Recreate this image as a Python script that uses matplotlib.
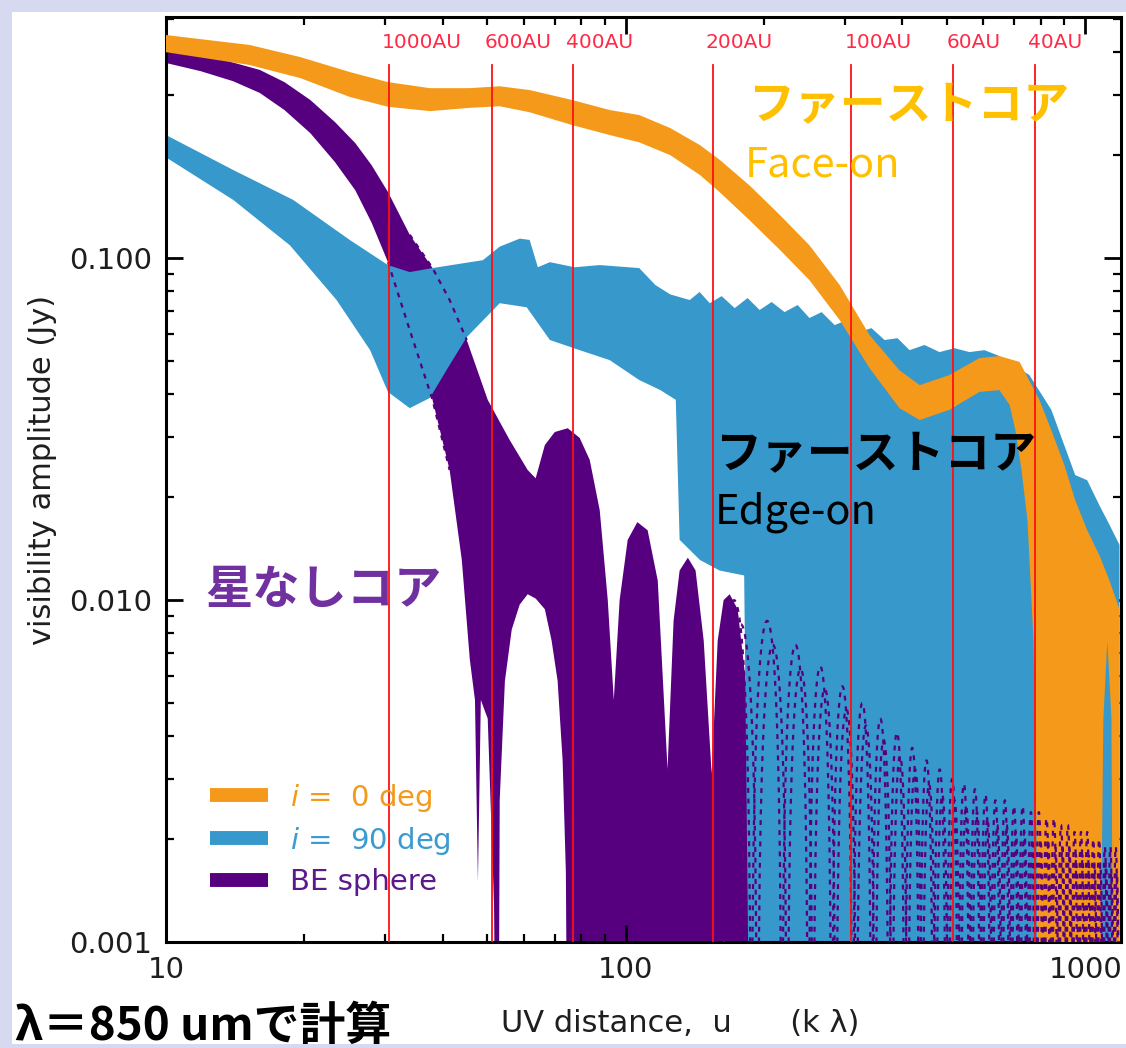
import numpy as np
import matplotlib.pyplot as plt
from matplotlib.lines import Line2D
from matplotlib.patches import Rectangle
from matplotlib.ticker import LogLocator, NullFormatter

JP = ['Noto Sans CJK JP', 'DejaVu Sans']

# first core, face-on (i = 0 deg): upper and lower edge of the band
face_hi_u = [10, 15.2, 19.6, 25.1, 30.4, 37.5, 45.8, 53.2, 61.8, 76.4, 92.3, 107, 125, 145, 160, 186, 216, 251,
             292, 339, 394, 436, 506, 588, 650, 719, 794, 843, 900, 950, 1009, 1073, 1128, 1186]
face_hi_v = [0.449, 0.420, 0.387, 0.350, 0.327, 0.314, 0.314, 0.318, 0.310, 0.290, 0.271, 0.262, 0.240, 0.214,
             0.194, 0.163, 0.134, 0.109, 0.0834, 0.0596, 0.0470, 0.0425, 0.0455, 0.0510, 0.0517, 0.0497, 0.0385,
             0.0314, 0.0248, 0.0196, 0.0160, 0.0135, 0.0114, 0.0094]
face_lo_u = [10, 15.2, 19.6, 25.1, 30.4, 37.5, 45.8, 53.2, 61.8, 76.4, 92.3, 107, 125, 145, 160, 186, 216, 251,
             292, 339, 394, 436, 506, 588, 650, 684, 704, 726, 748, 771, 783, 790, 1062, 1094, 1116, 1139, 1156,
             1186]
face_lo_v = [0.400, 0.367, 0.336, 0.296, 0.277, 0.269, 0.275, 0.278, 0.267, 0.245, 0.229, 0.218, 0.200, 0.175,
             0.156, 0.129, 0.106, 0.0862, 0.0659, 0.0477, 0.0364, 0.0336, 0.0360, 0.0406, 0.0411, 0.0372, 0.0314,
             0.0240, 0.0171, 0.0076, 0.0020, 1e-4, 1e-4, 0.0045, 0.0076, 0.0045, 1e-4, 1e-4]

# first core, edge-on (i = 90 deg)
edge_hi_u = [10, 14.0, 18.9, 25.1, 30.4, 33.9, 38.0, 48.9, 53.2, 58.8, 61.8, 64.4, 68.4, 77.4, 87.8, 107, 116,
             125, 137.8, 144.8, 152.3, 161.7, 172.6, 184.1, 195.6, 207.7, 221.6, 236.6, 251, 266.8, 284.7, 303.8,
             322.6, 342.5, 365.6, 390.2, 414.4, 446.7, 481.5, 519.1, 559.6, 603.1, 650.2, 755, 843, 900, 950, 1009,
             1073, 1128, 1186]
edge_hi_v = [0.229, 0.181, 0.148, 0.113, 0.0954, 0.0910, 0.0935, 0.0986, 0.108, 0.114, 0.113, 0.0940, 0.0973,
             0.0940, 0.0954, 0.0935, 0.0834, 0.0783, 0.0754, 0.0796, 0.0738, 0.0774, 0.0714, 0.0764, 0.0705,
             0.0744, 0.0695, 0.0729, 0.0668, 0.0695, 0.0637, 0.0659, 0.0608, 0.0624, 0.0576, 0.0583, 0.0538,
             0.0557, 0.0531, 0.0545, 0.0531, 0.0538, 0.0517, 0.0455, 0.0360, 0.0283, 0.0232, 0.0224, 0.0189,
             0.0166, 0.0145]
edge_lo_u = [10, 14.0, 18.6, 23.5, 27.8, 30.4, 33.9, 37.5, 41.4, 45.1, 53.2, 60.9, 68.4, 79.4, 92.3, 107, 119,
             128.5, 131, 145, 160, 181, 188, 1186]
edge_lo_v = [0.197, 0.148, 0.109, 0.0754, 0.0538, 0.0406, 0.0364, 0.0390, 0.0487, 0.0587, 0.0738, 0.0718,
             0.0576, 0.0538, 0.0503, 0.0440, 0.0411, 0.0385, 0.0150, 0.0131, 0.0122, 0.0118, 1e-4, 1e-4]

# starless core (BE sphere)
be_hi_u = [10, 11.9, 14.0, 16.0, 18.1, 20.6, 23.3, 25.8, 28.0, 30.4, 33.9, 38.0, 41.4, 45.1, 50.1, 55.9, 61.2,
           63.7, 66.7, 70.1, 74.8, 79.4, 83.5, 87.8, 91.4, 94.2, 97.0, 101, 106, 111.6, 117.4, 123.3, 127.1, 131,
           136.5, 141.9, 147.8, 153.8, 158.5, 163.3, 168.3, 175.2, 182.4, 186, 188]
be_hi_v = [0.411, 0.395, 0.373, 0.355, 0.327, 0.290, 0.250, 0.217, 0.187, 0.156, 0.117, 0.0935, 0.0754, 0.0576,
           0.0385, 0.0294, 0.0240, 0.0227, 0.0284, 0.0310, 0.0318, 0.0298, 0.0257, 0.0183, 0.0100, 0.0051, 0.0100,
           0.0150, 0.0169, 0.0160, 0.0114, 0.0032, 0.0087, 0.0122, 0.0133, 0.0122, 0.0076, 0.0031, 0.0076,
           0.0100, 0.0104, 0.0094, 0.0058, 0.0026, 1e-4]
be_lo_u = [10, 11.9, 14.0, 16.0, 18.1, 20.6, 23.3, 25.8, 28.0, 30.4, 33.9, 38.0, 41.4, 44.0, 45.8, 47.0, 47.7,
           48.4, 50.1, 51.7, 52.7, 53.2, 54.6, 56.5, 58.8, 61.2, 63.7, 66.7, 69.0, 71.1, 72.9, 74.1, 75.1, 188]
be_lo_v = [0.372, 0.352, 0.329, 0.304, 0.271, 0.232, 0.191, 0.158, 0.127, 0.0973, 0.0616, 0.0385, 0.0240,
           0.0131, 0.0067, 0.0051, 0.0015, 0.0051, 0.0045, 0.0013, 1e-4, 0.0026, 0.0058, 0.0082, 0.0097, 0.0104,
           0.0101, 0.0094, 0.0076, 0.0058, 0.0034, 0.0016, 1e-4, 1e-4]

# side lobes of the two BE curves (peak position, peak height)
lobe_a_u = [172, 203, 234, 265, 296, 327, 358, 389, 420, 451, 482, 513, 544, 575, 606, 637, 668, 699, 730, 761,
            792, 823, 854, 885, 916, 947, 978, 1009, 1040, 1071, 1102, 1133, 1164]
lobe_a_v = [0.0100, 0.0087, 0.0074, 0.0064, 0.0056, 0.0050, 0.0045, 0.0041, 0.0037, 0.0034, 0.0032, 0.0030,
            0.0029, 0.0028, 0.0027, 0.0026, 0.0026, 0.0025, 0.0025, 0.0024, 0.0024, 0.0023, 0.0023, 0.0022,
            0.0022, 0.0021, 0.0021, 0.0021, 0.0020, 0.0020, 0.0019, 0.0019, 0.0019]
lobe_b_u = [178, 209, 240, 271, 302, 333, 364, 395, 426, 457, 488, 519, 550, 581, 612, 643, 674, 705, 736, 767,
            798, 829, 860, 891, 922, 953, 984, 1015, 1046, 1077, 1108, 1139, 1170]
lobe_b_v = [0.0085, 0.0074, 0.0063, 0.0055, 0.0048, 0.0043, 0.0039, 0.0035, 0.0032, 0.0029, 0.0027, 0.0026,
            0.0025, 0.0024, 0.0023, 0.0022, 0.0022, 0.0021, 0.0021, 0.0020, 0.0020, 0.0020, 0.0019, 0.0019,
            0.0019, 0.0018, 0.0018, 0.0018, 0.0017, 0.0017, 0.0017, 0.0016, 0.0016]

# spatial scales marked with red lines
au_labels = ['1000AU', '600AU', '400AU', '200AU', '100AU', '60AU', '40AU']
au_u = [30.5, 51.1, 76.7, 154.5, 309.7, 516, 778]

ORANGE = '#F4991A'
BLUE = '#3698CB'
PURPLE = '#57007F'


def band(ax, hi_u, hi_v, lo_u, lo_v, color, z):
    xs = np.r_[hi_u, lo_u[::-1]]
    ys = np.r_[hi_v, lo_v[::-1]]
    ax.fill(xs, ys, color=color, lw=0, zorder=z)


def lobes(peak_u, peak_v, n=30):
    pu = np.asarray(peak_u, float)
    pv = np.asarray(peak_v, float)
    mids = (pu[1:] + pu[:-1]) / 2
    edges = np.r_[2 * pu[0] - mids[0], mids, 2 * pu[-1] - mids[-1]]
    t = np.linspace(0, 1, n)
    us, vs = [], []
    for i in range(len(pu)):
        us.append(edges[i] + t * (edges[i + 1] - edges[i]))
        vs.append(np.maximum(pv[i] * np.sin(np.pi * t), 1e-5))
    return np.concatenate(us), np.concatenate(vs)


fig = plt.figure(figsize=(11.26, 10.48), dpi=100)
fig.patch.set_facecolor('#d6daf1')
fig.add_artist(Rectangle((12 / 1126, 4 / 1048), 1, 1 - 16 / 1048, transform=fig.transFigure,
                         facecolor='white', edgecolor='none', zorder=-5))

ax = fig.add_axes([166 / 1126, 106 / 1048, 955 / 1126, 925 / 1048])
ax.set_xscale('log')
ax.set_yscale('log')

band(ax, be_hi_u, be_hi_v, be_lo_u, be_lo_v, PURPLE, 1)
band(ax, edge_hi_u, edge_hi_v, edge_lo_u, edge_lo_v, BLUE, 2)
band(ax, face_hi_u, face_hi_v, face_lo_u, face_lo_v, ORANGE, 3)

# BE curves continue as dotted lines where the edge-on band covers them
dot = dict(color=PURPLE, lw=1.6, ls=(0, (2.2, 2.6)), zorder=4)
hu, hv = np.asarray(be_hi_u), np.asarray(be_hi_v)
lu, lv = np.asarray(be_lo_u), np.asarray(be_lo_v)
sel = (hu >= 33) & (hu <= 50)
ax.plot(hu[sel], hv[sel], **dot)
sel = (lu >= 29) & (lu <= 42)
ax.plot(lu[sel], lv[sel], **dot)
for pu, pv in [(lobe_a_u, lobe_a_v), (lobe_b_u, lobe_b_v)]:
    lx, ly = lobes(pu, pv)
    ax.plot(lx, ly, **dot)

for lab, u in zip(au_labels, au_u):
    ax.axvline(u, ymin=0, ymax=0.948, color='#FF1010', lw=1.3, zorder=5)
    ax.annotate(lab, xy=(u, 0.972), xycoords=('data', 'axes fraction'), xytext=(-5, 0),
                textcoords='offset points', ha='left', va='center', fontsize=14.5, color='#FF2A48')

ax.set_xlim(10, 1195)
ax.set_ylim(0.001, 0.507)
ax.set_xticks([10, 100, 1000])
ax.set_xticklabels(['10', '100', '1000'])
ax.set_yticks([0.001, 0.01, 0.1])
ax.set_yticklabels(['0.001', '0.010', '0.100'])
for axis in (ax.xaxis, ax.yaxis):
    axis.set_minor_locator(LogLocator(base=10, subs=np.arange(2, 10)))
    axis.set_minor_formatter(NullFormatter())
ax.tick_params(which='both', direction='in', top=True, right=True, colors='black', labelcolor='#1e1e1e')
ax.tick_params(which='major', length=12, width=2.0, labelsize=21, pad=10)
ax.tick_params(which='minor', length=6, width=1.6)
for s in ax.spines.values():
    s.set_linewidth(2.2)

ax.set_ylabel('visibility amplitude (Jy)', fontsize=22, color='#1e1e1e')
ax.yaxis.set_label_coords(-0.114, 0.51)
ax.set_xlabel('UV distance,  u      (k λ)', fontsize=22, color='#1e1e1e')
ax.xaxis.set_label_coords(0.538, -0.072)

handles = [Line2D([], [], color=c, lw=10, solid_capstyle='butt') for c in (ORANGE, BLUE, PURPLE)]
labels = [r'$i$ =  0 deg', r'$i$ =  90 deg', 'BE sphere']
ax.legend(handles, labels, loc='lower left', bbox_to_anchor=(0.046, 0.05), frameon=False, fontsize=21,
          handlelength=2.0, handletextpad=0.75, labelspacing=0.38, borderpad=0, borderaxespad=0,
          labelcolor=['#F39A1A', '#3A9BD0', '#5A1A8A'])

fig.text(748 / 1126, 1 - 106 / 1048, 'ファーストコア', fontsize=33, weight='bold', color='#FFC000',
         family=JP, va='center')
fig.text(745 / 1126, 1 - 165 / 1048, 'Face-on', fontsize=30, color='#FFC000', family=JP, va='center')
fig.text(715 / 1126, 1 - 455 / 1048, 'ファーストコア', fontsize=33, weight='bold', color='black',
         family=JP, va='center')
fig.text(715 / 1126, 1 - 512 / 1048, 'Edge-on', fontsize=30, color='black', family=JP, va='center')
fig.text(205 / 1126, 1 - 590 / 1048, '星なしコア', fontsize=34, weight='bold', color='#7030A0',
         family=JP, va='center')
fig.text(15 / 1126, 1 - 1027 / 1048, 'λ＝850 umで計算', fontsize=33, weight='bold', color='black',
         family=JP, va='center')

fig.savefig('out.png', dpi=100, facecolor=fig.get_facecolor())
